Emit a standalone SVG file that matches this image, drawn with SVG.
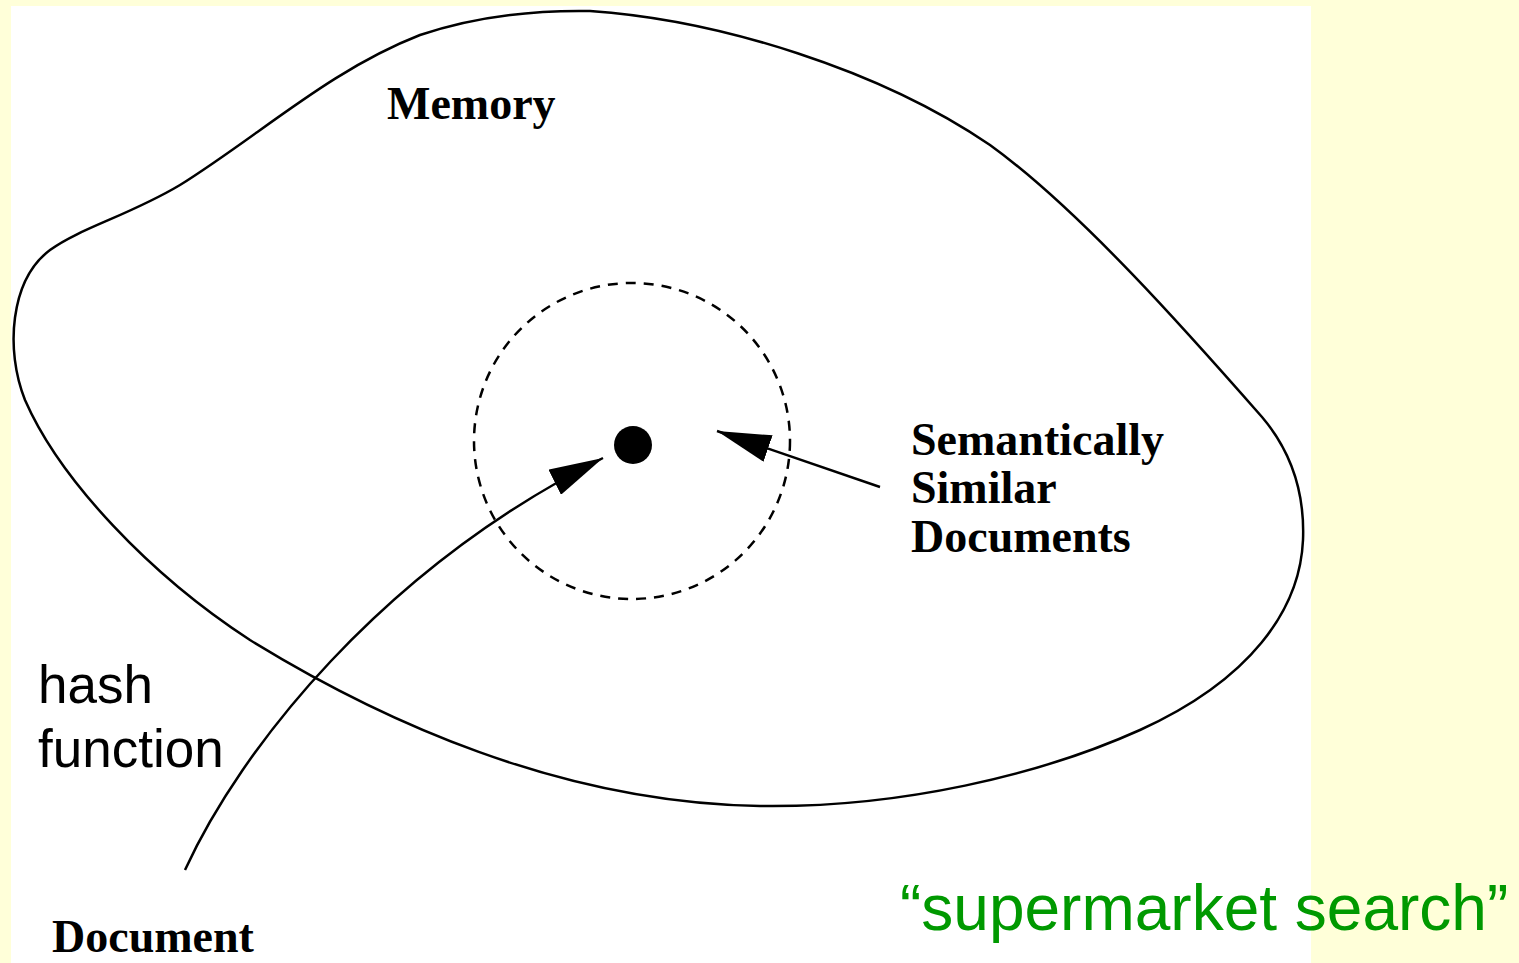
<svg xmlns="http://www.w3.org/2000/svg" width="1519" height="963" viewBox="0 0 1519 963">
<style>
.outline{fill:none;stroke:#000;stroke-width:2.5}
.dash{fill:none;stroke:#000;stroke-width:2.5;stroke-dasharray:10 8}
.conn{fill:none;stroke:#000;stroke-width:2.5}
.lbl{font-family:"Liberation Serif","Times New Roman",serif;font-weight:bold;font-size:46px;fill:#000}
.sans{font-family:"Liberation Sans",Arial,sans-serif;font-size:53px;fill:#000}
.green{font-family:"Liberation Sans",Arial,sans-serif;font-size:64px;fill:#009900}
</style>
<defs>
<marker id="ah" markerUnits="userSpaceOnUse" markerWidth="54" markerHeight="28" refX="54" refY="14" orient="auto" viewBox="0 0 54 28">
<path d="M0,0 L54,14 L0,28 Z" fill="#000"/>
</marker>
</defs>
<rect x="0" y="0" width="1519" height="963" fill="#FFFFD9"/>
<rect x="11" y="6" width="1300" height="957" fill="#FFFFFF"/>
<g id="memory">
<path class="outline" d="M590,11 C720,20 880,70 990,145 C1080,210 1190,335 1262,417 C1290,450 1305,490 1303,540 C1300,610 1250,680 1140,730 C1040,775 900,808 760,806 C560,803 380,720 250,640 C150,575 60,480 25,400 C5,350 10,280 50,250 C80,228 130,215 180,185 C260,135 330,70 420,35 C470,18 530,10 590,11 Z"/>
<text class="lbl" x="387" y="119">Memory</text>
</g>
<g id="similar-region">
<circle class="dash" cx="632" cy="441" r="158"/>
</g>
<g id="hash-point">
<circle cx="633" cy="445" r="19" fill="#000"/>
</g>
<g id="similar-label">
<text class="lbl" x="911" y="455">Semantically</text>
<text class="lbl" x="911" y="503">Similar</text>
<text class="lbl" x="911" y="552">Documents</text>
</g>
<g id="document">
<text class="lbl" x="52" y="952">Document</text>
</g>
<g id="hash-label">
<text class="sans" x="38" y="703">hash</text>
<text class="sans" x="38" y="767">function</text>
</g>
<g id="caption">
<text class="green" x="900" y="930">“supermarket search”</text>
</g>
<g id="connectors">
<path class="conn" d="M185,870 C240,750 380,570 603,458" marker-end="url(#ah)"/>
<path class="conn" d="M880,487 L717,431" marker-end="url(#ah)"/>
</g>
</svg>
